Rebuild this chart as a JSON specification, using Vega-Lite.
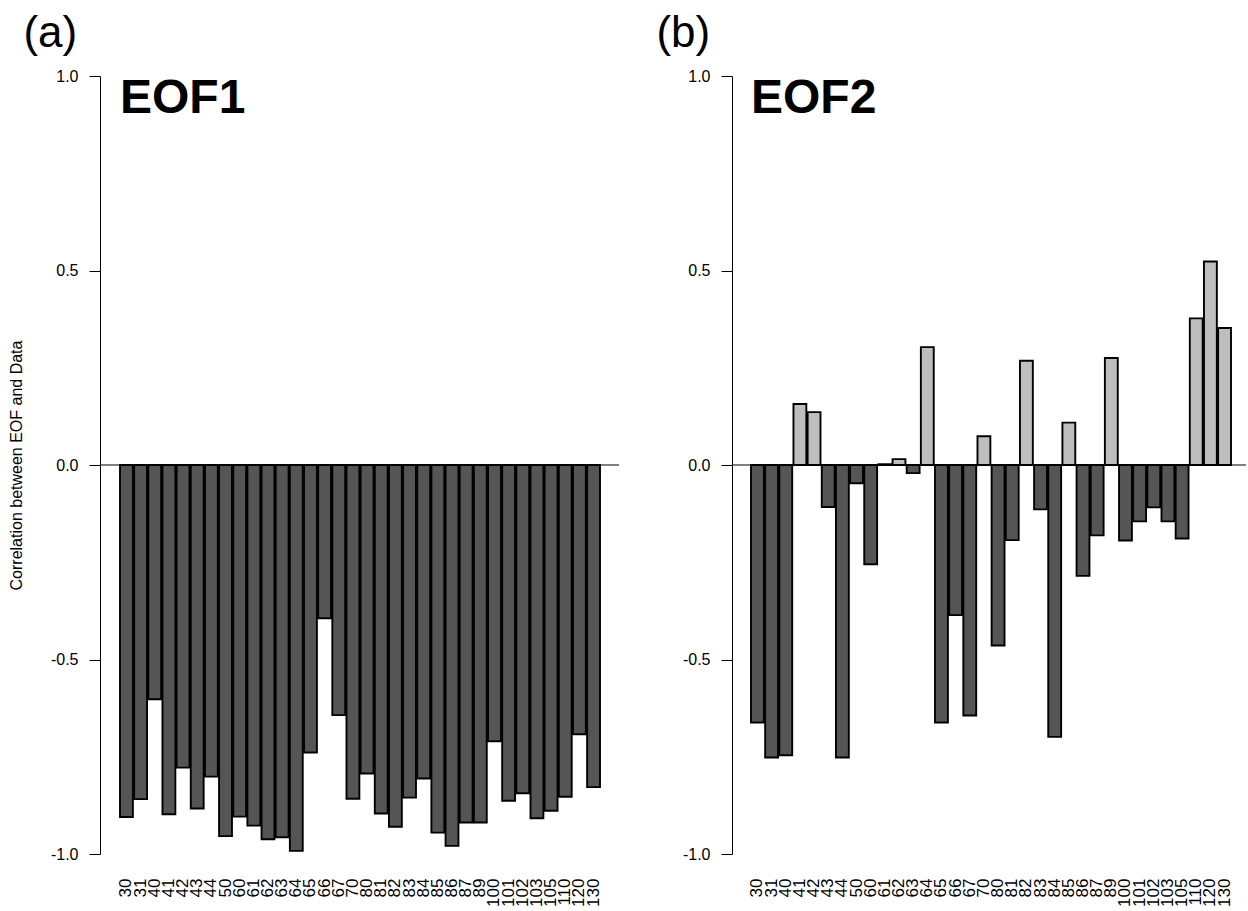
{
  "$schema": "https://vega.github.io/schema/vega-lite/v6.json",
  "background": "white",
  "padding": {"left": 8, "top": 12, "right": 0, "bottom": 0},
  "datasets": {
    "eof": [
      {"station": "30", "eof1": -0.905, "eof2": -0.662},
      {"station": "31", "eof1": -0.859, "eof2": -0.752},
      {"station": "40", "eof1": -0.602, "eof2": -0.746},
      {"station": "41", "eof1": -0.898, "eof2": 0.157},
      {"station": "42", "eof1": -0.778, "eof2": 0.136},
      {"station": "43", "eof1": -0.883, "eof2": -0.108},
      {"station": "44", "eof1": -0.801, "eof2": -0.752},
      {"station": "50", "eof1": -0.954, "eof2": -0.047},
      {"station": "60", "eof1": -0.904, "eof2": -0.255},
      {"station": "61", "eof1": -0.927, "eof2": 0.002},
      {"station": "62", "eof1": -0.962, "eof2": 0.015},
      {"station": "63", "eof1": -0.957, "eof2": -0.021},
      {"station": "64", "eof1": -0.992, "eof2": 0.303},
      {"station": "65", "eof1": -0.739, "eof2": -0.662},
      {"station": "66", "eof1": -0.394, "eof2": -0.386},
      {"station": "67", "eof1": -0.643, "eof2": -0.644},
      {"station": "70", "eof1": -0.858, "eof2": 0.074},
      {"station": "80", "eof1": -0.793, "eof2": -0.464},
      {"station": "81", "eof1": -0.896, "eof2": -0.193},
      {"station": "82", "eof1": -0.93, "eof2": 0.268},
      {"station": "83", "eof1": -0.855, "eof2": -0.114},
      {"station": "84", "eof1": -0.806, "eof2": -0.699},
      {"station": "85", "eof1": -0.945, "eof2": 0.109},
      {"station": "86", "eof1": -0.979, "eof2": -0.285},
      {"station": "87", "eof1": -0.919, "eof2": -0.181},
      {"station": "89", "eof1": -0.919, "eof2": 0.275},
      {"station": "100", "eof1": -0.71, "eof2": -0.194},
      {"station": "101", "eof1": -0.863, "eof2": -0.145},
      {"station": "102", "eof1": -0.844, "eof2": -0.109},
      {"station": "103", "eof1": -0.908, "eof2": -0.145},
      {"station": "105", "eof1": -0.889, "eof2": -0.189},
      {"station": "110", "eof1": -0.853, "eof2": 0.377},
      {"station": "120", "eof1": -0.692, "eof2": 0.523},
      {"station": "130", "eof1": -0.828, "eof2": 0.352}
    ]
  },
  "config": {
    "font": "Liberation Sans",
    "view": {"stroke": null},
    "axis": {"labelColor": "black", "titleColor": "black", "domainColor": "black", "tickColor": "black", "grid": false},
    "title": {"font": "Liberation Sans", "fontWeight": "normal", "color": "black"}
  },
  "hconcat": [
    {
      "width": 519,
      "height": 778,
      "title": {"text": "(a)", "anchor": "start", "fontSize": 44, "dx": 15, "offset": 12},
      "layer": [
        {
          "data": {"name": "eof"},
          "mark": {"type": "bar", "stroke": "black", "strokeWidth": 1.9},
          "encoding": {
            "x": {
              "field": "station", "type": "nominal", "sort": null,
              "scale": {"paddingInner": 0.09, "paddingOuter": 0, "range": [20, 500]},
              "axis": {"title": null, "domain": false, "ticks": false, "labelAngle": -90, "labelPadding": 24, "labelFontSize": 17, "labelOverlap": false}
            },
            "y": {
              "field": "eof1", "type": "quantitative",
              "scale": {"domain": [-1, 1], "nice": false, "zero": false},
              "axis": {"title": "Correlation between EOF and Data", "titleFontSize": 16, "titleFontWeight": "normal", "titlePadding": 26,
                       "values": [-1, -0.5, 0, 0.5, 1], "labelExpr": "replace(format(datum.value, '.1f'), '\u2212', '-')",
                       "labelFontSize": 16, "tickSize": 11, "labelPadding": 11}
            },
            "fill": {"condition": {"test": "datum.eof1 > 0", "value": "#BEBEBE"}, "value": "#555555"}
          }
        },
        {
          "data": {"values": [{"label": "EOF1"}]},
          "mark": {"type": "text", "align": "left", "baseline": "alphabetic", "fontSize": 48, "fontWeight": "bold", "color": "black"},
          "encoding": {
            "x": {"datum": "30", "bandPosition": 0},
            "y": {"datum": 0.905},
            "text": {"field": "label"}
          }
        },
        {
          "data": {"values": [{"zero": 0}]},
          "mark": {"type": "rule", "color": "black", "strokeWidth": 1.2},
          "encoding": {"y": {"field": "zero", "type": "quantitative"}}
        }
      ]
    },
    {
      "width": 514,
      "height": 778,
      "title": {"text": "(b)", "anchor": "start", "fontSize": 44, "dx": -26, "offset": 12},
      "layer": [
        {
          "data": {"name": "eof"},
          "mark": {"type": "bar", "stroke": "black", "strokeWidth": 1.9},
          "encoding": {
            "x": {
              "field": "station", "type": "nominal", "sort": null,
              "scale": {"paddingInner": 0.09, "paddingOuter": 0, "range": [19, 499]},
              "axis": {"title": null, "domain": false, "ticks": false, "labelAngle": -90, "labelPadding": 24, "labelFontSize": 17, "labelOverlap": false}
            },
            "y": {
              "field": "eof2", "type": "quantitative",
              "scale": {"domain": [-1, 1], "nice": false, "zero": false},
              "axis": {"title": null,
                       "values": [-1, -0.5, 0, 0.5, 1], "labelExpr": "replace(format(datum.value, '.1f'), '\u2212', '-')",
                       "labelFontSize": 16, "tickSize": 11, "labelPadding": 11}
            },
            "fill": {"condition": {"test": "datum.eof2 > 0", "value": "#BEBEBE"}, "value": "#555555"}
          }
        },
        {
          "data": {"values": [{"label": "EOF2"}]},
          "mark": {"type": "text", "align": "left", "baseline": "alphabetic", "fontSize": 48, "fontWeight": "bold", "color": "black"},
          "encoding": {
            "x": {"datum": "30", "bandPosition": 0},
            "y": {"datum": 0.905},
            "text": {"field": "label"}
          }
        },
        {
          "data": {"values": [{"zero": 0}]},
          "mark": {"type": "rule", "color": "black", "strokeWidth": 1.2},
          "encoding": {"y": {"field": "zero", "type": "quantitative"}}
        }
      ]
    }
  ],
  "spacing": 36
}
